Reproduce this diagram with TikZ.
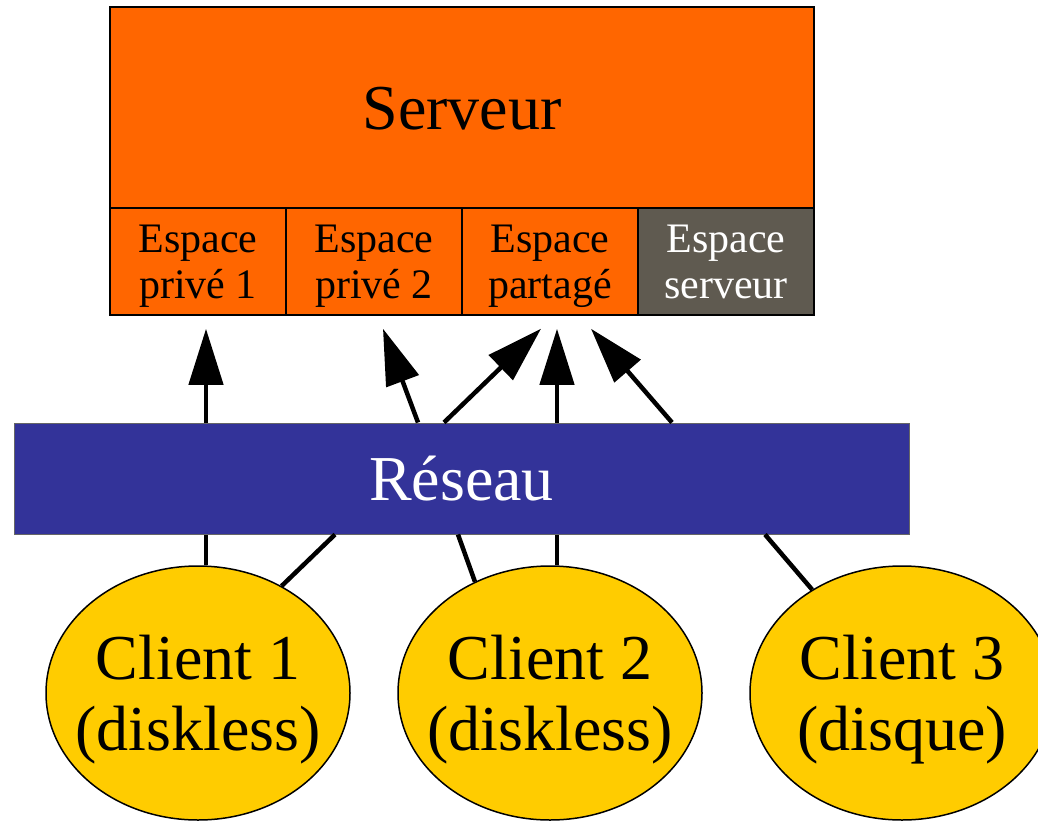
\documentclass[tikz,border=0pt]{standalone}
\usepackage{fontspec}
\setmainfont{Liberation Serif}
\definecolor{srvOrange}{HTML}{FF6600}
\definecolor{srvGray}{HTML}{5F5A50}
\definecolor{netBlue}{HTML}{333399}
\definecolor{cliYellow}{HTML}{FFCC00}
\usetikzlibrary{arrows.meta,shapes.geometric}
\newcommand{\bigfont}{\fontsize{64}{70.8}\selectfont}
\newcommand{\cellfont}{\fontsize{42}{46.5}\selectfont}

\begin{document}
\begin{tikzpicture}[x=1pt, y=-1pt,
  cell/.style={draw=black, line width=1.5pt, fill=srvOrange, minimum width=176pt,
    minimum height=107pt, inner sep=0pt, align=center, font=\cellfont,
    text height=84pt, text depth=9.1pt},
  client/.style={ellipse, draw=black, line width=1.5pt, fill=cliYellow,
    minimum width=304pt, minimum height=254pt, inner sep=-20pt, align=center, font=\bigfont,
    text height=127.8pt, text depth=13.8pt},
  bigbox/.style={line width=1.5pt, inner sep=0pt, font=\bigfont,
    text height=57pt, text depth=13.8pt},
  arr/.style={-{Triangle[length=56pt,width=34pt]}, line width=4.5pt},
  link/.style={line width=4.5pt}
]
  \useasboundingbox (0,0) rectangle (1038,821);

  % server and its spaces
  \node[bigbox, draw=black, fill=srvOrange, minimum width=704pt,
    minimum height=201pt] (serveur) at (462,107.5) {Serveur};
  \node[cell] (prive1) at (198,261.5) {Espace\\privé 1};
  \node[cell] (prive2) at (374,261.5) {Espace\\privé 2};
  \node[cell] (partage) at (550,261.5) {Espace\\partagé};
  \node[cell, fill=srvGray, text=white] (espsrv) at (726,261.5) {Espace\\serveur};

  % network
  \node[bigbox, draw=black!60, line width=1pt, fill=netBlue, text=white,
    minimum width=895pt, minimum height=111pt] (reseau) at (461.5,478.5) {Réseau};

  % clients
  \node[client] (client1) at (198,693) {Client 1\\(diskless)};
  \node[client] (client2) at (550,693) {Client 2\\(diskless)};
  \node[client] (client3) at (902,693) {Client 3\\(disque)};

  % network to server
  \draw[arr] ([xshift=-255.5pt]reseau.north) -- ([xshift=8pt,yshift=-13pt]prive1.south);
  \draw[arr] ([xshift=-43.5pt]reseau.north) -- ([xshift=9pt,yshift=-13pt]prive2.south);
  \draw[arr] ([xshift=-17.5pt]reseau.north) -- ([xshift=-9pt,yshift=-13pt]partage.south);
  \draw[arr] ([xshift=95.5pt]reseau.north) -- ([xshift=7pt,yshift=-13pt]partage.south);
  \draw[arr] ([xshift=210.5pt]reseau.north) -- ([xshift=41pt,yshift=-13pt]partage.south);

  % clients to network
  \draw[link] ([xshift=8pt]client1.north) -- ([xshift=-255.5pt]reseau.south);
  \draw[link] (client1.52) -- ([xshift=-126.5pt]reseau.south);
  \draw[link] (client2.124) -- ([xshift=-3.5pt]reseau.south);
  \draw[link] ([xshift=7pt]client2.north) -- ([xshift=95.5pt]reseau.south);
  \draw[link] (client3.131) -- ([xshift=303.5pt]reseau.south);
\end{tikzpicture}
\end{document}
